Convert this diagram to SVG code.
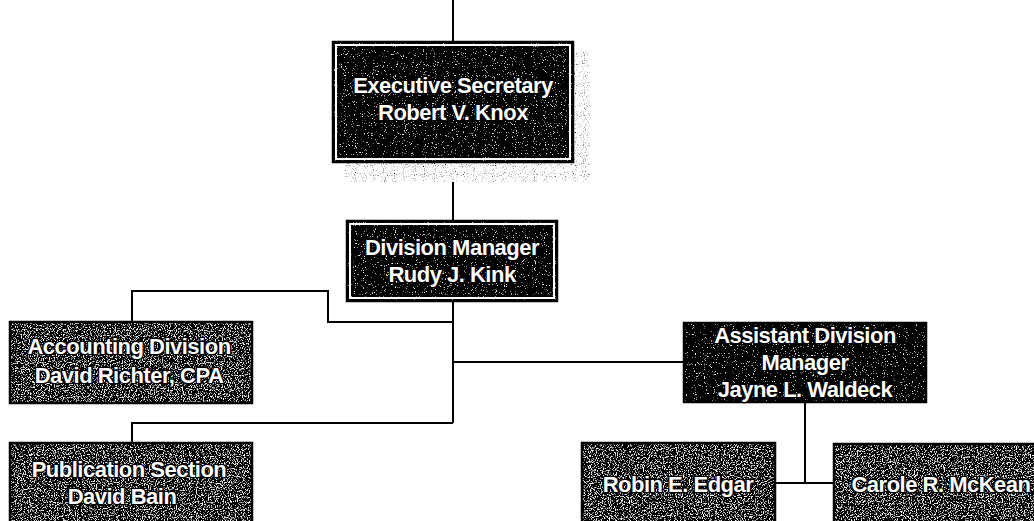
<svg xmlns="http://www.w3.org/2000/svg" width="1034" height="521" viewBox="0 0 1034 521">
<style>
.lbl{font-family:"Liberation Sans",Arial,sans-serif;font-size:22px;font-weight:bold;fill:#fff;stroke:#000;stroke-width:2.6px;stroke-linejoin:round;paint-order:stroke;text-anchor:middle;letter-spacing:-0.5px}
.conn{fill:none;stroke:#000;stroke-width:2}
.frame{fill:none;stroke:#000;stroke-width:2.5}
.inner{fill:none;stroke:#000;stroke-width:1.5}
.gap{fill:none;stroke:#fff;stroke-width:2}
</style>
<defs>
<filter id="dark" x="0" y="0" width="100%" height="100%">
<feTurbulence type="fractalNoise" baseFrequency="0.9" numOctaves="2" seed="4" result="n"/>
<feColorMatrix in="n" type="matrix" values="7 0 0 0 -4.6  7 0 0 0 -4.6  7 0 0 0 -4.6  0 0 0 0 1" result="c"/>
<feComposite in="c" in2="SourceAlpha" operator="in"/>
</filter>
<filter id="grain" x="0" y="0" width="100%" height="100%">
<feTurbulence type="fractalNoise" baseFrequency="0.85" numOctaves="2" seed="9" result="n"/>
<feColorMatrix in="n" type="matrix" values="6 0 0 0 -3.2  6 0 0 0 -3.2  6 0 0 0 -3.2  0 0 0 0 1" result="c"/>
<feComposite in="c" in2="SourceAlpha" operator="in"/>
</filter>
<filter id="shade" x="0" y="0" width="100%" height="100%">
<feTurbulence type="fractalNoise" baseFrequency="0.9" numOctaves="1" seed="2" result="n"/>
<feColorMatrix in="n" type="matrix" values="4 0 0 0 -0.8  4 0 0 0 -0.8  4 0 0 0 -0.8  0 0 0 0 1" result="c"/>
<feComposite in="c" in2="SourceAlpha" operator="in"/>
</filter>
</defs>

<g id="connectors">
<path class="conn" d="M453 0 V42"/>
<path class="conn" d="M453 162 V221"/>
<path class="conn" d="M453 301 V423"/>
<path class="conn" d="M453 322 H328 V291 H132 V322"/>
<path class="conn" d="M453 362 H684"/>
<path class="conn" d="M453 423 H132 V443"/>
<path class="conn" d="M805 402 V483"/>
<path class="conn" d="M775 483 H834"/>
</g>

<g id="executive-secretary">
<rect x="345" y="52" width="245" height="130" fill="#fff" filter="url(#shade)"/>
<rect x="333" y="42" width="240" height="120" fill="#000" filter="url(#dark)"/>
<rect class="frame" x="333" y="42" width="240" height="120"/>
<rect class="gap" x="336" y="45" width="234" height="114"/>
<rect class="inner" x="338.5" y="47.5" width="229" height="109"/>
<text class="lbl" x="453" y="93">Executive Secretary</text>
<text class="lbl" x="453" y="120">Robert V. Knox</text>
</g>

<g id="division-manager">
<rect x="347" y="221" width="210" height="80" fill="#000" filter="url(#dark)"/>
<rect class="frame" x="347" y="221" width="210" height="80"/>
<rect class="gap" x="350" y="224" width="204" height="74"/>
<rect class="inner" x="352.5" y="226.5" width="199" height="69"/>
<text class="lbl" x="452" y="255">Division Manager</text>
<text class="lbl" x="452" y="282">Rudy J. Kink</text>
</g>

<g id="accounting-division">
<rect x="10" y="322" width="242" height="81" fill="#000" filter="url(#grain)"/>
<rect class="frame" x="10" y="322" width="242" height="81"/>
<text class="lbl" x="129" y="354">Accounting Division</text>
<text class="lbl" x="129" y="383">David Richter, CPA</text>
</g>

<g id="publication-section">
<rect x="10" y="443" width="242" height="90" fill="#000" filter="url(#grain)"/>
<rect class="frame" x="10" y="443" width="242" height="90"/>
<text class="lbl" x="129" y="477">Publication Section</text>
<text class="lbl" x="122" y="504">David Bain</text>
</g>

<g id="assistant-division-manager">
<rect x="684" y="323" width="242" height="79" fill="#000" filter="url(#dark)"/>
<rect class="frame" x="684" y="323" width="242" height="79"/>
<text class="lbl" x="805" y="343">Assistant Division</text>
<text class="lbl" x="805" y="370">Manager</text>
<text class="lbl" x="805" y="397">Jayne L. Waldeck</text>
</g>

<g id="robin-edgar">
<rect x="582" y="443" width="193" height="90" fill="#000" filter="url(#grain)"/>
<rect class="frame" x="582" y="443" width="193" height="90"/>
<text class="lbl" x="678" y="492">Robin E. Edgar</text>
</g>

<g id="carole-mckean">
<rect x="834" y="444" width="214" height="90" fill="#000" filter="url(#grain)"/>
<rect class="frame" x="834" y="444" width="214" height="90"/>
<text class="lbl" x="941" y="492">Carole R. McKean</text>
</g>
</svg>
